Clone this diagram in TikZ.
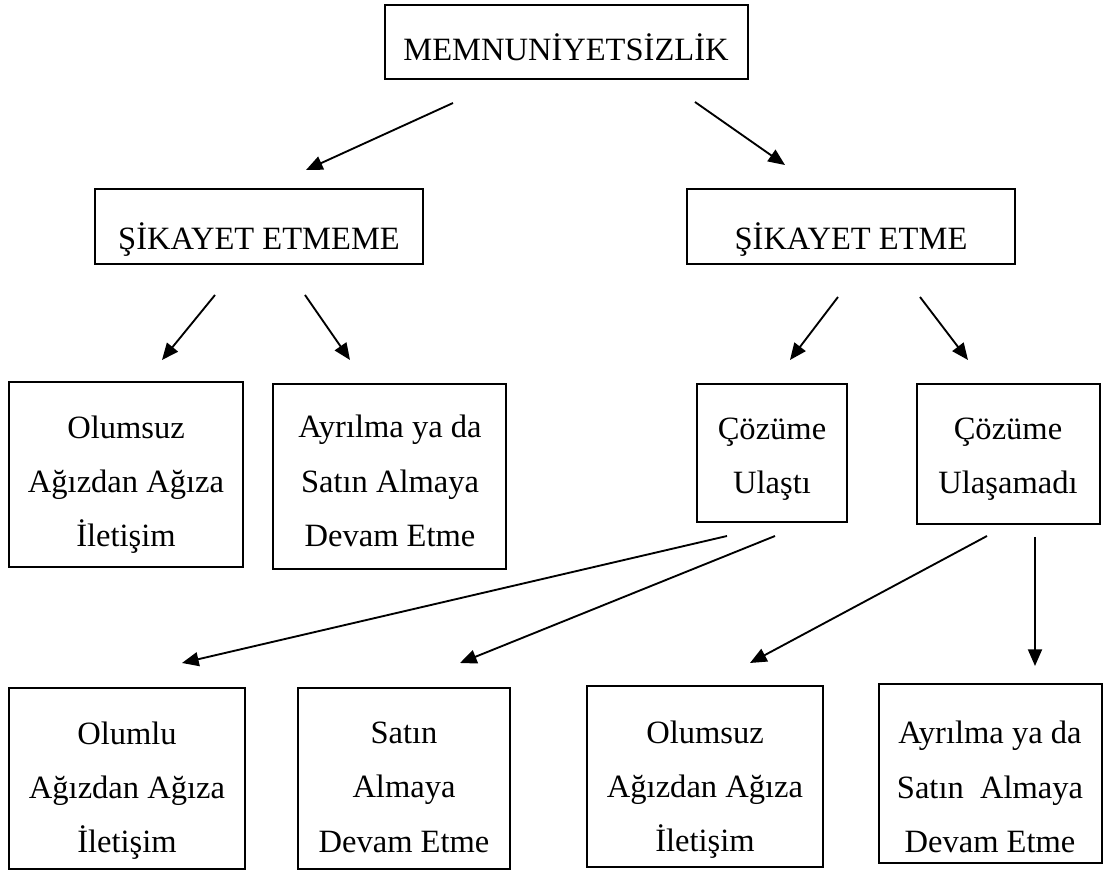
\documentclass[tikz,border=0pt]{standalone}
\usepackage{fontspec}
\setmainfont{Liberation Serif}
\usetikzlibrary{arrows.meta}
\newcommand\mybox[5]{\node[box,minimum width={(#3-#2)*0.75pt},minimum height={(#5-#4)*0.75pt}] (#1) at ({(#2+#3)/2},{(#4+#5)/2}) {};}
\begin{document}
\begin{tikzpicture}[x=0.75pt,y=-0.75pt,
  box/.style={draw=black, line width=1.2pt, inner sep=0pt, rectangle, fill=none},
  txt/.style={align=center, inner sep=0pt, font=\fontsize{24.4}{40.8}\selectfont},
  arr/.style={line width=1.4pt, -{Triangle[length=12.5pt,width=10.5pt]}}]
\useasboundingbox[fill=white] (0,0) rectangle (1108,873);

% boxes
\mybox{top}{385}{748}{5}{79}
\mybox{sem}{95}{423}{189}{264}
\mybox{se}{687}{1015}{189}{264}
\mybox{oa1}{9}{243}{382}{567}
\mybox{as1}{273}{506}{384}{569}
\mybox{cu}{697}{847}{384}{522}
\mybox{cud}{917}{1100}{384}{524}
\mybox{olu}{9}{245}{688}{869}
\mybox{sad}{298}{510}{688}{869}
\mybox{oa2}{587}{823}{686}{867}
\mybox{as2}{879}{1102}{684}{863}

% texts
\node[txt] (ttop) at (566,47.6) {MEMNUNİYETSİZLİK};
\node[txt] (tsem) at (259,240) {ŞİKAYET ETMEME};
\node[txt] (tse) at (851,240) {ŞİKAYET ETME};
\node[txt] (toa1) at (126,484.6) {Olumsuz\\Ağızdan Ağıza\\İletişim};
\node[txt] (tas1) at (390,481) {Ayrılma ya da\\Satın Almaya\\Devam Etme};
\node[txt] (tcu) at (772,459) {Çözüme\\Ulaştı};
\node[txt] (tcud) at (1008,459) {Çözüme\\Ulaşamadı};
\node[txt] (tolu) at (127,790.6) {Olumlu\\Ağızdan Ağıza\\İletişim};
\node[txt] (tsad) at (404,787) {Satın\\Almaya\\Devam Etme};
\node[txt] (toa2) at (705,789.6) {Olumsuz\\Ağızdan Ağıza\\İletişim};
\node[txt] (tas2) at (990,787) {Ayrılma ya da\\Satın\ \ Almaya\\Devam Etme};

% arrow end points
\coordinate (a1s) at (453,103); \coordinate (a1e) at (306,170);
\coordinate (a2s) at (695,102); \coordinate (a2e) at (785,165);
\coordinate (a3s) at (215,295); \coordinate (a3e) at (162,360);
\coordinate (a4s) at (305,295); \coordinate (a4e) at (350,360);
\coordinate (a5s) at (838,297); \coordinate (a5e) at (790,360);
\coordinate (a6s) at (920,297); \coordinate (a6e) at (968,360);
\coordinate (a7s) at (727,536); \coordinate (a7e) at (182,663);
\coordinate (a8s) at (775,536); \coordinate (a8e) at (460,663);
\coordinate (a9s) at (987,536); \coordinate (a9e) at (750,663);
\coordinate (a10s) at (1035,537); \coordinate (a10e) at (1035,666);

\foreach \i in {1,...,10} {\draw[arr] (a\i s) -- (a\i e);}
\end{tikzpicture}
\end{document}
